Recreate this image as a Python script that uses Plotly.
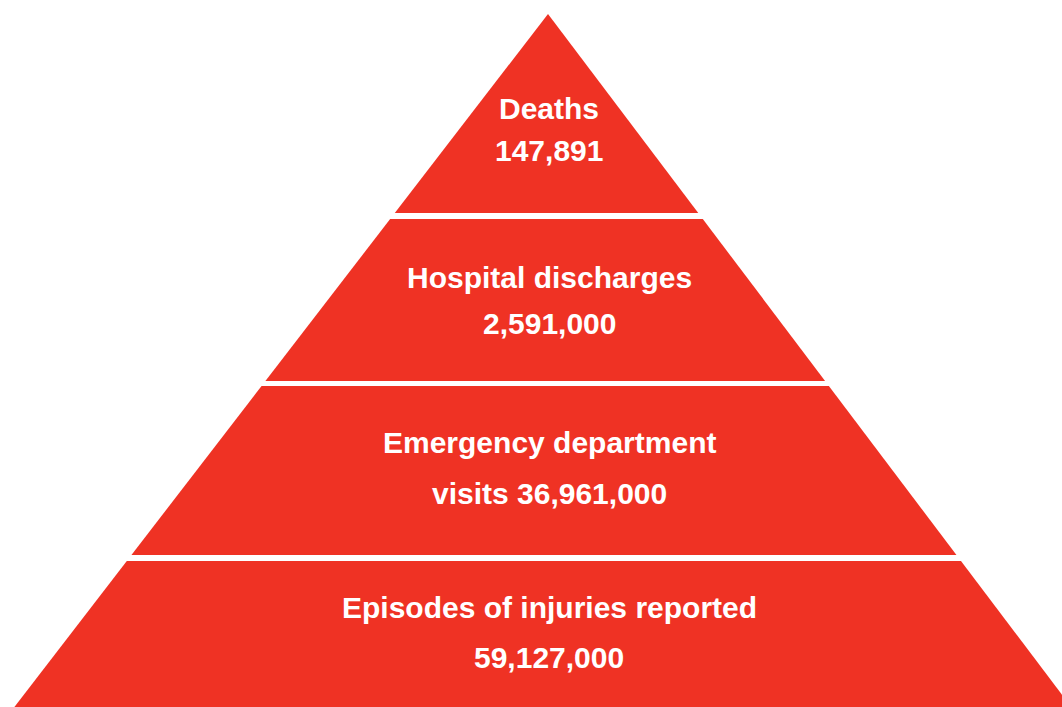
import plotly.graph_objects as go

# Data
stages = ["Deaths", "Hospital discharges", "Emergency department visits", "Episodes of injuries reported"]
values = [147891, 2591000, 36961000, 59127000]
label_line1 = ["Deaths", "Hospital discharges", "Emergency department", "Episodes of injuries reported"]
label_line2 = ["147,891", "2,591,000", "visits 36,961,000", "59,127,000"]

# Layout geometry (pixels in a 1062x707 canvas)
W, H = 1062, 707
apex_x, apex_y = 548, 14
slope_left, slope_right = 0.77, 0.755
bands = [(14, 213), (219, 381), (386, 555), (561, 707)]
line1_y = [108, 277, 442, 607]
line2_y = [150, 323, 493, 657]
text_x = 549
RED = "#EF3224"
FONT = dict(family="Liberation Sans, Arial, Helvetica, sans-serif", size=30, color="white")

fig = go.Figure()
for i, (y0, y1) in enumerate(bands):
    xl0 = apex_x - (y0 - apex_y) * slope_left
    xr0 = apex_x + (y0 - apex_y) * slope_right
    xl1 = apex_x - (y1 - apex_y) * slope_left
    xr1 = apex_x + (y1 - apex_y) * slope_right
    xs = [xl0, xr0, xr1, xl1, xl0]
    ys = [y0, y0, y1, y1, y0]
    fig.add_trace(go.Scatter(x=xs, y=ys, fill="toself", fillcolor=RED,
                             mode="lines", line=dict(width=0, color=RED),
                             hoverinfo="text", text=f"{stages[i]}: {values[i]:,}",
                             showlegend=False))
    fig.add_annotation(x=text_x, y=line1_y[i], text=f"<b>{label_line1[i]}</b>",
                       showarrow=False, xanchor="center", yanchor="middle", font=FONT)
    fig.add_annotation(x=text_x, y=line2_y[i], text=f"<b>{label_line2[i]}</b>",
                       showarrow=False, xanchor="center", yanchor="middle", font=FONT)

fig.update_layout(width=W, height=H, margin=dict(l=0, r=0, t=0, b=0),
                  paper_bgcolor="white", plot_bgcolor="white", showlegend=False)
fig.update_xaxes(range=[0, W], visible=False, fixedrange=True)
fig.update_yaxes(range=[H, 0], visible=False, fixedrange=True)
fig.write_html("out.html", config={"displayModeBar": False},
               post_script="document.body.style.margin='0';document.body.style.overflow='hidden';")
